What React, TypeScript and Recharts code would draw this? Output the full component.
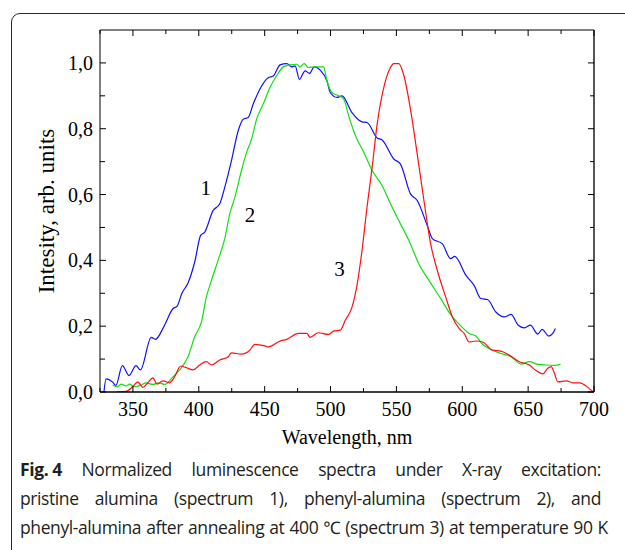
import React from 'react';
import { LineChart, Line, XAxis, YAxis, ReferenceDot } from 'recharts';

const SERIF = "'Liberation Serif', 'Times New Roman', Times, serif";
const SANS = "'Open Sans', 'Noto Sans', sans-serif";

const xTicks = [325, 350, 375, 400, 425, 450, 475, 500, 525, 550, 575, 600, 625, 650, 675, 700];
const yTicks = [0, 0.1, 0.2, 0.3, 0.4, 0.5, 0.6, 0.7, 0.8, 0.9, 1.0];

// spectrum 1 - pristine alumina
const s1Nm = [328, 329.6, 334.6, 337, 342, 347, 352.4, 355.7, 363.9, 367, 374, 380.3, 383.4, 387.2, 391.8, 396.9, 401.4, 404.5, 410.8, 415.9, 419.7, 424.8, 429.9, 433.7, 437.5, 441.3, 447.7, 452.7, 456.5, 461.7, 466.8, 470.6, 473.1, 476.4, 480.7, 484, 487.6, 492.2, 497.3, 499.8, 504.9, 508.7, 516.3, 523.9, 527.7, 535.4, 539.2, 548, 553, 560.7, 565.8, 573.4, 577.3, 584.9, 591.2, 594.3, 602.7, 609, 614.1, 619.2, 625.5, 631.9, 637, 642.5, 647.1, 651.7, 657.3, 660.6, 665.7, 668.7, 670.7];
const s1Val = [0.0, 0.04, 0.03, 0.02, 0.08, 0.05, 0.08, 0.067, 0.166, 0.16, 0.203, 0.253, 0.26, 0.3, 0.331, 0.395, 0.476, 0.486, 0.551, 0.572, 0.622, 0.703, 0.794, 0.829, 0.834, 0.875, 0.93, 0.955, 0.96, 0.994, 0.998, 0.988, 0.991, 0.95, 0.976, 0.968, 0.988, 0.978, 0.945, 0.91, 0.895, 0.9, 0.849, 0.821, 0.819, 0.772, 0.766, 0.708, 0.693, 0.602, 0.582, 0.506, 0.466, 0.45, 0.405, 0.412, 0.355, 0.324, 0.284, 0.281, 0.243, 0.228, 0.236, 0.203, 0.195, 0.203, 0.176, 0.19, 0.17, 0.178, 0.193];

// spectrum 2 - phenyl-alumina
const s2Nm = [334.6, 338.4, 341, 344.8, 347.3, 351.1, 356.2, 360, 365, 370, 374, 380.3, 385.4, 391.8, 396.9, 402, 405.8, 409.6, 414.6, 419.7, 423.5, 427.4, 432.4, 436.3, 440.1, 443.9, 448.9, 454, 459.1, 464.2, 469.3, 474.4, 476.9, 480, 483.3, 488.3, 494.7, 497.3, 501.1, 506.2, 510, 513.8, 518.9, 525.3, 531.6, 539.2, 545.5, 551.8, 559.4, 567, 574.7, 583.6, 591.2, 597.6, 605.2, 610.3, 615.4, 623, 629.3, 637, 644.6, 650.9, 657.3, 663.6, 670, 674.6];
const s2Val = [0.021, 0.016, 0.024, 0.018, 0.024, 0.016, 0.021, 0.028, 0.023, 0.028, 0.023, 0.046, 0.067, 0.107, 0.168, 0.213, 0.289, 0.339, 0.4, 0.466, 0.541, 0.592, 0.673, 0.728, 0.769, 0.829, 0.875, 0.925, 0.961, 0.988, 0.994, 0.996, 0.988, 0.998, 0.986, 0.988, 0.988, 0.945, 0.91, 0.9, 0.89, 0.839, 0.779, 0.728, 0.673, 0.627, 0.572, 0.521, 0.461, 0.39, 0.339, 0.284, 0.235, 0.206, 0.178, 0.17, 0.145, 0.127, 0.117, 0.107, 0.085, 0.092, 0.084, 0.082, 0.081, 0.084];

// spectrum 3 - phenyl-alumina after annealing
const s3Nm = [337, 344.8, 349.8, 353.7, 357.5, 361.3, 365.1, 368.4, 372.7, 377.8, 381.6, 386.2, 390.5, 395.6, 400.7, 405.8, 409.6, 415.9, 422.3, 424.8, 432.4, 438.7, 442.5, 450.2, 452.7, 461.7, 466.8, 475.6, 482, 484.5, 490.8, 498.5, 502.3, 507.4, 511.2, 516.3, 520.1, 523.9, 527.7, 531.6, 535.4, 540.4, 545.5, 548, 551.8, 555.7, 560.7, 565.8, 570.9, 576, 581, 587.4, 592.5, 597.6, 601.4, 605.2, 610.3, 615.4, 623, 629.3, 635.7, 643.3, 650.9, 656, 661.1, 664.9, 667.5, 670, 672.6, 678.9, 684, 689.1, 695.4, 699.2];
const s3Val = [0.0, 0.002, 0.016, 0.031, 0.014, 0.028, 0.043, 0.024, 0.034, 0.028, 0.046, 0.079, 0.074, 0.067, 0.082, 0.092, 0.082, 0.097, 0.107, 0.119, 0.115, 0.127, 0.145, 0.14, 0.137, 0.155, 0.16, 0.178, 0.178, 0.166, 0.18, 0.175, 0.185, 0.188, 0.218, 0.258, 0.325, 0.43, 0.562, 0.683, 0.814, 0.925, 0.986, 0.998, 0.998, 0.961, 0.859, 0.723, 0.582, 0.45, 0.37, 0.289, 0.228, 0.193, 0.178, 0.152, 0.155, 0.152, 0.127, 0.124, 0.112, 0.092, 0.082, 0.065, 0.055, 0.072, 0.077, 0.056, 0.031, 0.034, 0.028, 0.028, 0.014, 0.001];

const curveLabels = [
  { text: '1', nm: 405.3, val: 0.622 },
  { text: '2', nm: 438.8, val: 0.538 },
  { text: '3', nm: 506.9, val: 0.375 },
];

const captionLines = [
  'Normalized luminescence spectra under X-ray excitation:',
  'pristine alumina (spectrum 1), phenyl-alumina (spectrum 2), and',
  'phenyl-alumina after annealing at 400 ℃ (spectrum 3) at temperature 90 K',
];

const toPoints = (nm: number[], val: number[]) => nm.map((x, i) => ({ x, y: val[i] }));
const spectrum1 = toPoints(s1Nm, s1Val);
const spectrum2 = toPoints(s2Nm, s2Val);
const spectrum3 = toPoints(s3Nm, s3Val);

const fmtY = (v: number) => (Math.round(v * 10) / 10).toFixed(1).replace('.', ',');
const isMajorY = (v: number) => Math.round(v * 10) % 2 === 0;

const BottomTick = ({ x, y, payload }: any) => {
  const major = payload.value % 50 === 0;
  return (
    <g>
      <line x1={x} x2={x} y1={y} y2={y - (major ? 6 : 4)} stroke="#000" />
      {major && (
        <text x={x} y={y + 24} textAnchor="middle" fontFamily={SERIF} fontSize={20} fill="#000">
          {payload.value}
        </text>
      )}
    </g>
  );
};

const TopTick = ({ x, y, payload }: any) => {
  const major = payload.value % 50 === 0;
  return <line x1={x} x2={x} y1={y} y2={y + (major ? 6 : 4)} stroke="#000" />;
};

const LeftTick = ({ x, y, payload }: any) => {
  const major = isMajorY(payload.value);
  return (
    <g>
      <line x1={x} x2={x + (major ? 6 : 5)} y1={y} y2={y} stroke="#000" />
      {major && (
        <text x={x - 7} y={y + 7} textAnchor="end" fontFamily={SERIF} fontSize={20} fill="#000">
          {fmtY(payload.value)}
        </text>
      )}
    </g>
  );
};

const RightTick = ({ x, y, payload }: any) => {
  const major = isMajorY(payload.value);
  return <line x1={x} x2={x - (major ? 6 : 4)} y1={y} y2={y} stroke="#000" />;
};

function CaptionLine({ words, top, width }: { words: React.ReactNode[]; top: number; width: number }) {
  return (
    <div
      style={{
        position: 'absolute',
        left: 20,
        top,
        width,
        display: 'flex',
        justifyContent: 'space-between',
        fontFamily: SANS,
        fontSize: 17.5,
        letterSpacing: -0.4,
        lineHeight: '28px',
        color: '#231f20',
        whiteSpace: 'nowrap',
      }}
    >
      {words.map((w, i) => (
        <span key={i}>{w}</span>
      ))}
    </div>
  );
}

export default function App() {
  const first = [<b>Fig. 4</b>, ...captionLines[0].split(' ')];
  return (
    <div style={{ position: 'absolute', left: 0, top: 0, width: 625, height: 550, overflow: 'hidden', background: '#fff' }}>
      <div
        style={{
          position: 'absolute',
          left: 11,
          top: 13,
          width: 700,
          height: 600,
          border: '1.5px solid #2a2a2a',
          borderRadius: 9,
        }}
      />
      <div style={{ position: 'absolute', left: 0, top: 0 }}>
        <LineChart width={625} height={460} margin={{ top: 20, right: 21, bottom: 13, left: 40 }}>
          <XAxis
            xAxisId="b"
            type="number"
            dataKey="x"
            domain={[325, 700]}
            ticks={xTicks}
            interval={0}
            allowDataOverflow
            tickSize={0}
            tickMargin={0}
            tickLine={false}
            tick={BottomTick}
            axisLine={{ stroke: '#000', strokeWidth: 1.5 }}
            height={55}
            label={{ value: 'Wavelength, nm', position: 'insideBottom', offset: 3, fontSize: 20, fontFamily: SERIF, fill: '#000' }}
          />
          <XAxis
            xAxisId="t"
            orientation="top"
            type="number"
            dataKey="x"
            domain={[325, 700]}
            ticks={xTicks}
            interval={0}
            allowDataOverflow
            tickSize={0}
            tickMargin={0}
            tickLine={false}
            tick={TopTick}
            axisLine={{ stroke: '#000' }}
            height={10}
          />
          <YAxis
            yAxisId="l"
            type="number"
            domain={[0, 1.1]}
            ticks={yTicks}
            interval={0}
            allowDataOverflow
            tickSize={0}
            tickMargin={0}
            tickLine={false}
            tick={LeftTick}
            axisLine={{ stroke: '#000' }}
            width={60}
            label={{
              value: 'Intesity, arb. units',
              angle: -90,
              position: 'insideLeft',
              offset: 6,
              fontSize: 23,
              fontFamily: SERIF,
              fill: '#000',
              style: { textAnchor: 'middle' },
            }}
          />
          <YAxis
            yAxisId="r"
            orientation="right"
            type="number"
            domain={[0, 1.1]}
            ticks={yTicks}
            interval={0}
            allowDataOverflow
            tickSize={0}
            tickMargin={0}
            tickLine={false}
            tick={RightTick}
            axisLine={{ stroke: '#555', strokeWidth: 2 }}
            width={10}
          />
          <Line xAxisId="b" yAxisId="l" data={spectrum1} dataKey="y" type="monotone" stroke="#1010ff" strokeWidth={1.2} dot={false} isAnimationActive={false} />
          <Line xAxisId="b" yAxisId="l" data={spectrum2} dataKey="y" type="monotone" stroke="#10e010" strokeWidth={1.2} dot={false} isAnimationActive={false} />
          <Line xAxisId="b" yAxisId="l" data={spectrum3} dataKey="y" type="monotone" stroke="#ff1010" strokeWidth={1.2} dot={false} isAnimationActive={false} />
          {curveLabels.map((c) => (
            <ReferenceDot
              key={c.text}
              xAxisId="b"
              yAxisId="l"
              x={c.nm}
              y={c.val}
              r={0}
              fill="none"
              stroke="none"
              label={{ value: c.text, position: 'center', fontSize: 21, fontFamily: SERIF, fill: '#000' }}
            />
          ))}
        </LineChart>
      </div>
      <CaptionLine words={first} top={455} width={581} />
      <CaptionLine words={captionLines[1].split(' ')} top={484} width={581} />
      <CaptionLine words={captionLines[2].split(' ')} top={513} width={588} />
    </div>
  );
}
